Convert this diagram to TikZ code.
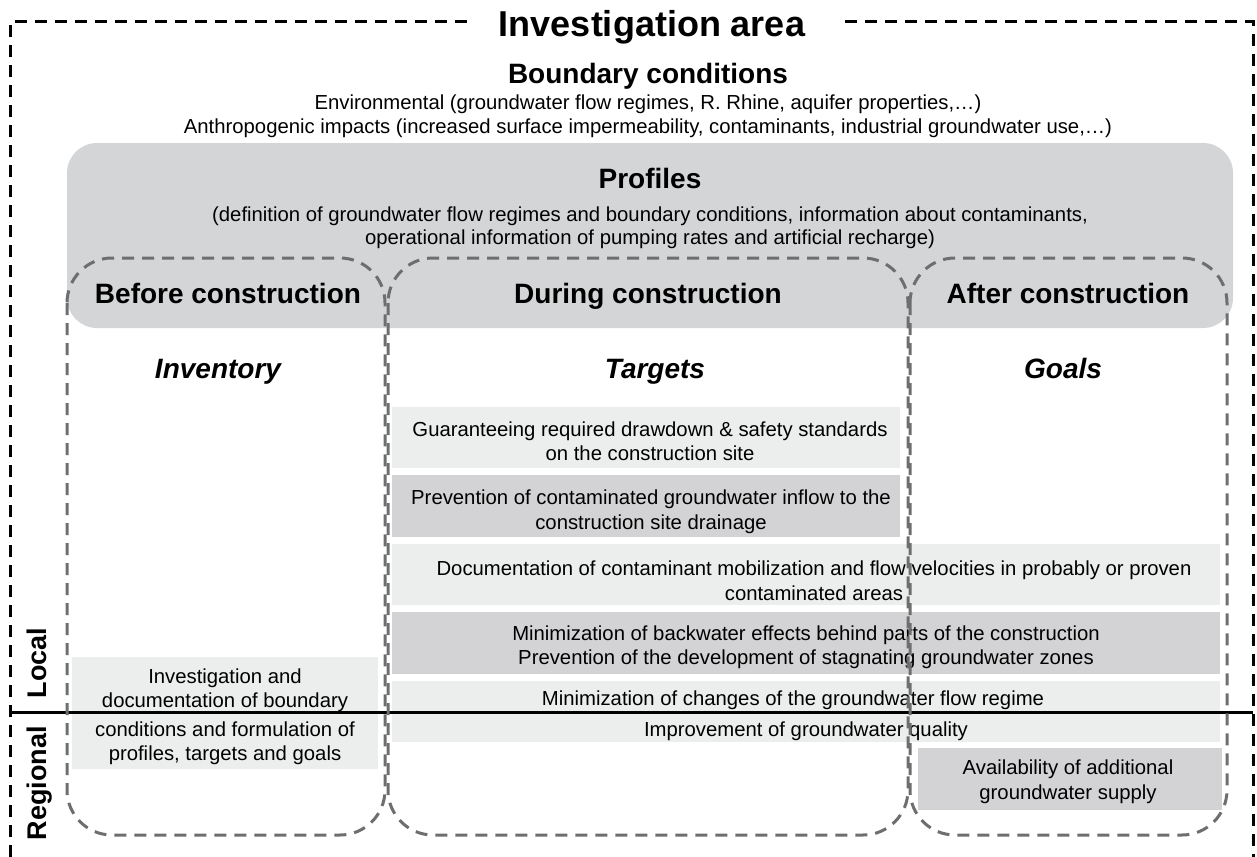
\documentclass[tikz,border=0pt]{standalone}
\usepackage{fontspec}
\setmainfont{Liberation Sans}
\definecolor{lightbox}{RGB}{236,237,237}
\definecolor{darkbox}{RGB}{211,211,213}
\definecolor{profgray}{RGB}{212,213,215}
\definecolor{dashgray}{RGB}{110,110,110}
\begin{document}
\begin{tikzpicture}[x=1pt,y=-1pt,
  txt/.style={font=\fontsize{20.3}{24.5}\selectfont, align=center, inner sep=0pt, text depth=0pt},
  head/.style={font=\fontsize{28}{32}\selectfont\bfseries, inner sep=0pt, text height=20pt, text depth=0pt},
  ihead/.style={head, font=\fontsize{28}{32}\selectfont\bfseries\itshape},
  lbox/.style 2 args={fill=lightbox, inner sep=0pt, minimum width=#1, minimum height=#2},
  dbox/.style 2 args={fill=darkbox, inner sep=0pt, minimum width=#1, minimum height=#2},
  frame/.style={draw=black, line width=3pt, dash pattern=on 12pt off 8pt},
  phase/.style={draw=dashgray, line width=3pt, dash pattern=on 12pt off 8pt, rounded corners=45pt},
  scaleline/.style={draw=black, line width=3pt}
]
\useasboundingbox (0,0) rectangle (1257,856);

% title and outer frame
\node[font=\fontsize{36}{40}\selectfont\bfseries, inner xsep=32pt, inner ysep=0pt, text height=26pt, text depth=0pt] (title) at (652,24) {Investigation area};
\coordinate (tl) at (10,22);
\coordinate (bl) at (10,860);
\coordinate (tr) at (1253,22);
\coordinate (br) at (1253,860);
\draw[frame] (title.west |- tl) -- (tl) -- (bl);
\draw[frame] ([xshift=8pt]title.east |- tr) -- (tr) -- (br);

% boundary conditions
\node[head] (bc) at (648,74) {Boundary conditions};
\node[txt] (env) at (648,102.6) {Environmental (groundwater flow regimes, R. Rhine, aquifer properties,\dots)};
\node[txt] (anth) at (648,126.6) {Anthropogenic impacts (increased surface impermeability, contaminants, industrial groundwater use,\dots)};

% profiles band
\fill[profgray, rounded corners=30pt] (67,143) rectangle (1233,328);
\node[head] (prof) at (650,178) {Profiles};
\node[txt, font=\fontsize{20.3}{23}\selectfont] (profdef) at (650,226) {(definition of groundwater flow regimes and boundary conditions, information about contaminants,\\operational information of pumping rates and artificial recharge)};

% phase headers
\node[head] (before) at (228,293) {Before construction};
\node[head] (during) at (648,293) {During construction};
\node[head] (after) at (1068,293) {After construction};
\node[ihead] (inv) at (218,368) {Inventory};
\node[ihead] (targ) at (655,368) {Targets};
\node[ihead] (goals) at (1063,368) {Goals};

% content boxes
\node[lbox={508pt}{61pt}] (b1) at (646,437.5) {};
\node[dbox={508pt}{62pt}] (b2) at (646,506) {};
\node[lbox={828pt}{61pt}] (b3) at (806,574.5) {};
\node[dbox={828pt}{62pt}] (b4) at (806,643) {};
\node[lbox={828pt}{31pt}] (b5) at (806,696.5) {};
\node[lbox={828pt}{28pt}] (b6) at (806,728) {};
\node[dbox={304pt}{62pt}] (b7) at (1070,779) {};
\node[lbox={306pt}{112pt}] (b8) at (225,713) {};

% box texts
\node[txt] (t1) at (650,441) {Guaranteeing required drawdown \& safety standards\\on the construction site};
\node[txt] (t2) at (651,509.5) {Prevention of contaminated groundwater inflow to the\\construction site drainage};
\node[txt] (t3) at (814,580.5) {Documentation of contaminant mobilization and flow velocities in probably or proven\\contaminated areas};
\node[txt] (t4) at (806,645) {Minimization of backwater effects behind parts of the construction\\Prevention of the development of stagnating groundwater zones};
\node[txt] (t5) at (793,698.6) {Minimization of changes of the groundwater flow regime};
\node[txt] (t6) at (806,729) {Improvement of groundwater quality};
\node[txt] (t7) at (1068,779.6) {Availability of additional\\groundwater supply};
\node[txt] (t8) at (225,714.5) {Investigation and\\documentation of boundary\\[4pt]conditions and formulation of\\profiles, targets and goals};

% local / regional divider
\coordinate (dl) at (10,712);
\coordinate (dr) at (1253,712);
\draw[scaleline] (dl) -- (dr);
\node[head, font=\fontsize{27}{30}\selectfont\bfseries, rotate=90] (local) at (36,663) {Local};
\node[head, font=\fontsize{27}{30}\selectfont\bfseries, rotate=90] (regional) at (36,783) {Regional};

% phase outlines
\draw[phase] (67,258) rectangle (385,835);
\draw[phase] (388,258) rectangle (908,835);
\draw[phase] (910,258) rectangle (1227,835);
\end{tikzpicture}
\end{document}
